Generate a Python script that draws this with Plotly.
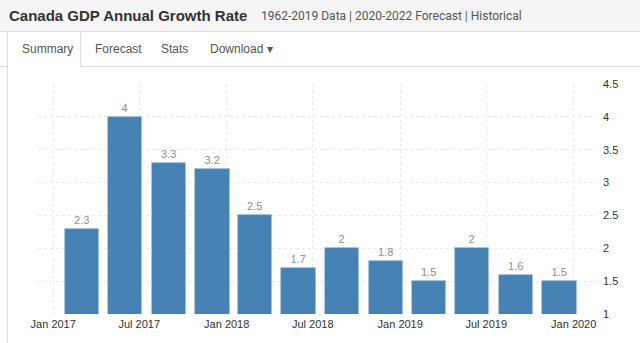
import plotly.graph_objects as go

# Canada GDP annual growth rate, quarterly (%)
quarters = ["2017-03-31", "2017-06-30", "2017-09-30", "2017-12-31",
            "2018-03-31", "2018-06-30", "2018-09-30", "2018-12-31",
            "2019-03-31", "2019-06-30", "2019-09-30", "2019-12-31"]
growth = [2.3, 4, 3.3, 3.2, 2.5, 1.7, 2, 1.8, 1.5, 2, 1.6, 1.5]
value_labels = ["2.3", "4", "3.3", "3.2", "2.5", "1.7", "2", "1.8", "1.5", "2", "1.6", "1.5"]

title_text = "Canada GDP Annual Growth Rate"
subtitle_text = "1962-2019 Data | 2020-2022 Forecast | Historical"
tab_labels = ["Summary", "Forecast", "Stats", "Download \u25be"]

W, H = 640, 343
L, R, T, B = 38, 597, 84, 314  # plot area in pixels
DAY_MS = 86400000


def px(x):
    return (x - L) / (R - L)


def py(y):
    return (B - y) / (B - T)


fig = go.Figure()
fig.add_trace(go.Bar(
    x=quarters, y=growth,
    text=value_labels, textposition="outside",
    textfont=dict(family="Liberation Sans, Arial, sans-serif", size=11, color="#8f8f8f"),
    cliponaxis=False,
    offset=-65 * DAY_MS, width=72 * DAY_MS,
    marker=dict(color="#4682b4", line=dict(color="#a9c4dd", width=0.8)),
    hoverinfo="skip",
))

shapes = [
    # header band
    dict(type="rect", xref="paper", yref="paper", x0=px(0), x1=px(W), y0=py(0), y1=py(31),
         fillcolor="#f5f5f5", line=dict(width=0), layer="below"),
    dict(type="line", xref="paper", yref="paper", x0=px(0), x1=px(W), y0=py(31.5), y1=py(31.5),
         line=dict(color="#dddddd", width=1)),
    # tab strip borders
    dict(type="line", xref="paper", yref="paper", x0=px(0), x1=px(7.5), y0=py(66.5), y1=py(66.5),
         line=dict(color="#dddddd", width=1)),
    dict(type="line", xref="paper", yref="paper", x0=px(80.5), x1=px(W), y0=py(66.5), y1=py(66.5),
         line=dict(color="#dddddd", width=1)),
    dict(type="line", xref="paper", yref="paper", x0=px(7.5), x1=px(7.5), y0=py(31.5), y1=py(H),
         line=dict(color="#dddddd", width=1)),
    dict(type="line", xref="paper", yref="paper", x0=px(80.5), x1=px(80.5), y0=py(31.5), y1=py(66.5),
         line=dict(color="#dddddd", width=1)),
]

annotations = [
    dict(text=f"<b>{title_text}</b>", x=px(7), y=py(16), xref="paper", yref="paper",
         xanchor="left", yanchor="middle", showarrow=False,
         font=dict(family="Liberation Sans, Arial, sans-serif", size=15, color="#333333")),
    dict(text=subtitle_text, x=px(259), y=py(16), xref="paper", yref="paper",
         xanchor="left", yanchor="middle", showarrow=False,
         font=dict(family="Roboto, sans-serif", size=12, color="#555555")),
]
tab_x = [20, 93, 159, 208]
for label, x in zip(tab_labels, tab_x):
    annotations.append(dict(text=label, x=px(x), y=py(49), xref="paper", yref="paper",
                            xanchor="left", yanchor="middle", showarrow=False,
                            font=dict(family="Liberation Sans, Arial, sans-serif", size=12,
                                      color="#555555")))

fig.update_layout(
    width=W, height=H,
    margin=dict(l=L, r=W - R, t=T, b=H - B, pad=0),
    paper_bgcolor="white", plot_bgcolor="white",
    showlegend=False,
    bargap=0,
    shapes=shapes, annotations=annotations,
    xaxis=dict(
        type="date", range=["2016-11-30", "2020-02-19"],
        tick0="2017-01-01", dtick="M6", tickformat="%b %Y",
        showgrid=True, gridcolor="#e8e8e8", griddash="dot", gridwidth=1,
        showline=False, zeroline=False, ticks="",
        tickfont=dict(family="Liberation Sans, Arial, sans-serif", size=11, color="#333333"),
        ticklabelstandoff=2,
    ),
    yaxis=dict(
        range=[1, 4.5], dtick=0.5, side="right",
        showgrid=True, gridcolor="#e8e8e8", griddash="dot", gridwidth=1,
        showline=False, zeroline=False, ticks="",
        tickfont=dict(family="Liberation Sans, Arial, sans-serif", size=11, color="#333333"),
        ticklabelstandoff=5,
    ),
)

fig.write_html("out.html")
